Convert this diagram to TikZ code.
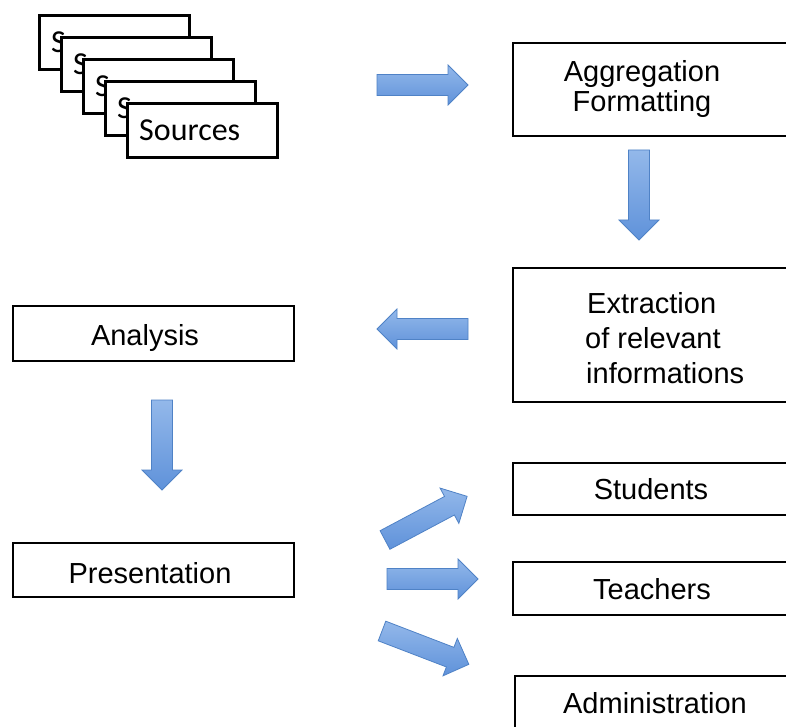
\documentclass[tikz,border=0pt]{standalone}
\usepackage{fontspec}
\setmainfont{Liberation Sans}
\newfontfamily\calib{Carlito}
\definecolor{arrowtop}{HTML}{93B8EA}
\definecolor{arrowbot}{HTML}{5F92DA}
\definecolor{arrowline}{HTML}{4F82C6}
\tikzset{
  box/.style={draw=black, line width=2.7pt, fill=white, rectangle, inner sep=0pt},
  srcbox/.style={draw=black, line width=3pt, fill=white, rectangle, inner sep=0pt,
    minimum width=150pt, minimum height=54pt},
  lbl/.style={inner sep=0pt, font=\fontsize{29}{31}\selectfont},
  srclbl/.style={inner sep=0pt, anchor=base west, font=\calib\fontsize{32}{34}\selectfont},
  pics/barrow/.style={code={
    \path[top color=arrowtop, bottom color=arrowbot, draw=arrowline, line width=0.8pt, line join=miter]
      (0,-10.5) -- (#1-20,-10.5) -- (#1-20,-20) -- (#1,0) -- (#1-20,20) -- (#1-20,10.5) -- (0,10.5) -- cycle;
  }}
}
\begin{document}
\begin{tikzpicture}[x=1pt,y=-1pt]
\useasboundingbox (0,0) rectangle (786,727);
\fill[white] (0,0) rectangle (786,727);

% stacked source boxes
\node[srcbox, anchor=north west] (s1) at (38,14) {};
\node[srclbl] (s1t) at (51,53) {Sources};
\node[srcbox, anchor=north west] (s2) at (60,36) {};
\node[srclbl] (s2t) at (73,75) {Sources};
\node[srcbox, anchor=north west] (s3) at (82,58) {};
\node[srclbl] (s3t) at (95,97) {Sources};
\node[srcbox, anchor=north west] (s4) at (104,80) {};
\node[srclbl] (s4t) at (117,119) {Sources};
\node[srcbox, anchor=north west] (s5) at (126,102) {};
\node[srclbl] (s5t) at (139,141) {Sources};

% boxes
\node[box, minimum width=276pt, minimum height=93pt] (agg) at (651,89.5) {};
\node[lbl, anchor=base] (aggt1) at (642,82) {Aggregation};
\node[lbl, anchor=base] (aggt2) at (642,112) {Formatting};

\node[box, minimum width=276pt, minimum height=134pt] (ext) at (651,335) {};
\node[lbl, anchor=base west] (extt1) at (587,313) {Extraction};
\node[lbl, anchor=base west] (extt2) at (585,348) {of relevant};
\node[lbl, anchor=base west] (extt3) at (586,383) {informations};

\node[box, minimum width=281pt, minimum height=55pt] (ana) at (153.5,333.5) {};
\node[lbl, anchor=base] (anat) at (145,345) {Analysis};

\node[box, minimum width=281pt, minimum height=54pt] (pre) at (153.5,570) {};
\node[lbl, anchor=base] (pret) at (150,583) {Presentation};

\node[box, minimum width=276pt, minimum height=52pt] (stu) at (651,489) {};
\node[lbl, anchor=base] (stut) at (651,499) {Students};

\node[box, minimum width=276pt, minimum height=53pt] (tea) at (651,588.5) {};
\node[lbl, anchor=base] (teat) at (652,599) {Teachers};

\node[box, minimum width=274pt, minimum height=56pt] (adm) at (652,704) {};
\node[lbl, anchor=base] (admt) at (655,713) {Administration};

% block arrows
\pic at (377,85) {barrow=91};
\pic[rotate=-90] at (639,150) {barrow=90};
\pic[rotate=180] at (468,329) {barrow=91};
\pic[rotate=-90] at (162,400) {barrow=90};
\pic[rotate=28] at (385,540) {barrow=93};
\pic at (387,579) {barrow=91};
\pic[rotate=-21] at (382,631) {barrow=93};
\end{tikzpicture}
\end{document}
